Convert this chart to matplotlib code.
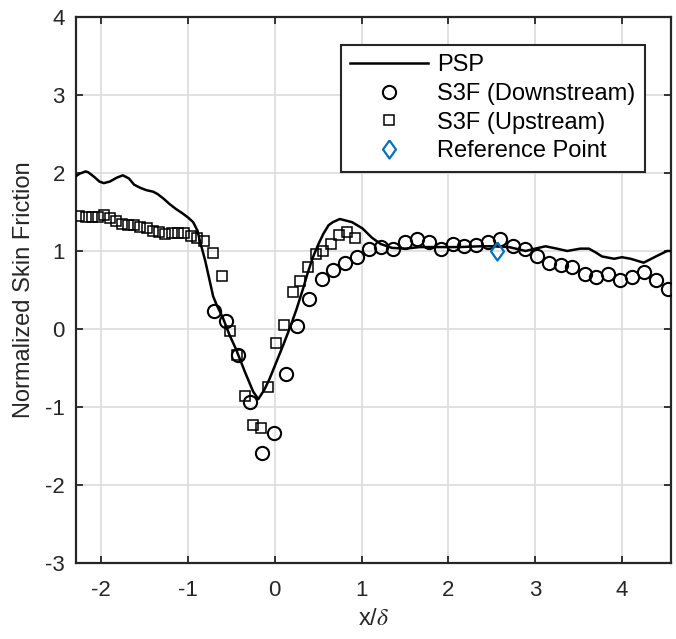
import matplotlib
matplotlib.use("Agg")
import matplotlib.pyplot as plt
import numpy as np

plt.rcParams['font.family'] = ['Liberation Sans', 'DejaVu Sans']
plt.rcParams['mathtext.fontset'] = 'stix'
plt.rcParams['axes.unicode_minus'] = False

# PSP line
psp_x = [-2.29, -2.25, -2.18, -2.15, -2.08, -2.02, -1.97, -1.90, -1.82, -1.75, -1.68,
         -1.62, -1.55, -1.48, -1.40, -1.35, -1.28, -1.21, -1.14, -1.06, -1.00, -0.94,
         -0.89, -0.86, -0.80, -0.75, -0.71, -0.67, -0.60, -0.52, -0.45, -0.34, -0.25,
         -0.19, -0.12, -0.06, 0.02, 0.10, 0.18, 0.25, 0.33, 0.38, 0.44, 0.50, 0.56,
         0.62, 0.67, 0.75, 0.82, 0.89, 0.95, 1.01, 1.12, 1.22, 1.35, 1.50, 1.67, 1.90,
         2.13, 2.36, 2.51, 2.70, 2.89, 3.00, 3.12, 3.25, 3.37, 3.52, 3.62, 3.70, 3.77,
         3.91, 4.00, 4.10, 4.25, 4.41, 4.52, 4.56]
psp_y = [1.96, 1.99, 2.02, 2.01, 1.95, 1.89, 1.87, 1.89, 1.94, 1.97, 1.93,
         1.85, 1.81, 1.78, 1.76, 1.73, 1.67, 1.60, 1.54, 1.48, 1.43, 1.37,
         1.26, 1.12, 0.87, 0.62, 0.42, 0.31, 0.15, -0.08, -0.25, -0.56, -0.80,
         -0.90, -0.78, -0.64, -0.42, -0.20, 0.03, 0.25, 0.53, 0.72, 0.92, 1.08, 1.22,
         1.33, 1.37, 1.41, 1.39, 1.37, 1.33, 1.29, 1.17, 1.09, 1.04, 1.03, 1.05, 1.05,
         1.05, 1.06, 1.06, 1.05, 1.00, 1.03, 1.06, 1.03, 1.00, 1.03, 1.03, 0.98, 0.93,
         0.90, 0.92, 0.90, 0.85, 0.94, 1.00, 1.00]

# S3F downstream (circles)
down_x = [-0.70, -0.56, -0.42, -0.29, -0.15, -0.01, 0.13, 0.26, 0.40, 0.54, 0.67,
          0.81, 0.95, 1.09, 1.22, 1.36, 1.50, 1.64, 1.78, 1.91, 2.05, 2.18, 2.32,
          2.46, 2.60, 2.74, 2.88, 3.02, 3.16, 3.30, 3.43, 3.57, 3.70, 3.84, 3.98,
          4.12, 4.25, 4.39, 4.53]
down_y = [0.23, 0.10, -0.33, -0.94, -1.59, -1.34, -0.58, 0.04, 0.39, 0.64, 0.76,
          0.85, 0.92, 1.02, 1.05, 1.03, 1.11, 1.16, 1.11, 1.02, 1.09, 1.07, 1.08,
          1.11, 1.15, 1.06, 1.02, 0.94, 0.85, 0.82, 0.79, 0.71, 0.66, 0.70, 0.63,
          0.66, 0.73, 0.63, 0.51]

# S3F upstream (squares)
up_x = [-2.25, -2.18, -2.11, -2.04, -1.97, -1.90, -1.83, -1.76, -1.69, -1.62, -1.55,
        -1.47, -1.40, -1.33, -1.26, -1.18, -1.11, -1.04, -0.97, -0.89, -0.82, -0.71,
        -0.61, -0.52, -0.43, -0.34, -0.25, -0.16, -0.08, 0.02, 0.11, 0.21, 0.29,
        0.38, 0.47, 0.56, 0.65, 0.74, 0.83, 0.92]
up_y = [1.45, 1.44, 1.44, 1.44, 1.46, 1.42, 1.38, 1.35, 1.33, 1.33, 1.31,
        1.29, 1.26, 1.24, 1.22, 1.23, 1.23, 1.23, 1.19, 1.17, 1.13, 0.98,
        0.68, -0.03, -0.33, -0.86, -1.23, -1.27, -0.74, -0.18, 0.05, 0.47, 0.61,
        0.80, 0.96, 1.00, 1.09, 1.21, 1.24, 1.17]

# Reference point
ref_x = [2.56]
ref_y = [1.00]

xticks = [-2, -1, 0, 1, 2, 3, 4]
yticks = [-3, -2, -1, 0, 1, 2, 3, 4]

fig = plt.figure(figsize=(6.76, 6.39), dpi=100)
ax = fig.add_axes([0.1124, 0.1190, 0.8795, 0.8544])

diamond = [(0, 1), (0.72, 0), (0, -1), (-0.72, 0), (0, 1)]

ax.plot(psp_x, psp_y, color='black', lw=1.8, label='PSP', zorder=3)
ax.plot(down_x, down_y, linestyle='none', marker='o', ms=9.5, mfc='none',
        mec='black', mew=1.5, label='S3F (Downstream)', zorder=4)
ax.plot(up_x, up_y, linestyle='none', marker='s', ms=7.4, mfc='none',
        mec='black', mew=1.1, label='S3F (Upstream)', zorder=4)
ax.plot(ref_x, ref_y, linestyle='none', marker=diamond, ms=13, mfc='none',
        mec='#0072BD', mew=1.6, label='Reference Point', zorder=5)

ax.set_xlim(-2.29, 4.56)
ax.set_ylim(-3, 4)
ax.set_xticks(xticks)
ax.set_yticks(yticks)
ax.grid(True, color='#dcdcdc', lw=1.2)
ax.set_axisbelow(True)
ax.tick_params(direction='in', length=5, width=1.3, top=True, right=True,
               labelsize=16, colors='#262626')
ax.tick_params(axis='x', pad=12)
ax.tick_params(axis='y', pad=8)
for s in ax.spines.values():
    s.set_linewidth(1.6)
    s.set_color('#262626')

ax.set_xlabel(r'x/$\delta$', fontsize=17, color='#262626', labelpad=5)
ax.set_ylabel('Normalized Skin Friction', fontsize=17, color='#262626', labelpad=7)

leg = ax.legend(loc='upper right', bbox_to_anchor=(0.957, 0.949), borderaxespad=0,
                fontsize=17, frameon=True, fancybox=False, edgecolor='#262626',
                handlelength=3.3, handletextpad=0.38, labelspacing=0.28,
                borderpad=0.4, markerscale=1.0)
leg.get_frame().set_linewidth(1.5)
leg.get_frame().set_alpha(1)

fig.savefig('out.png', dpi=100)
